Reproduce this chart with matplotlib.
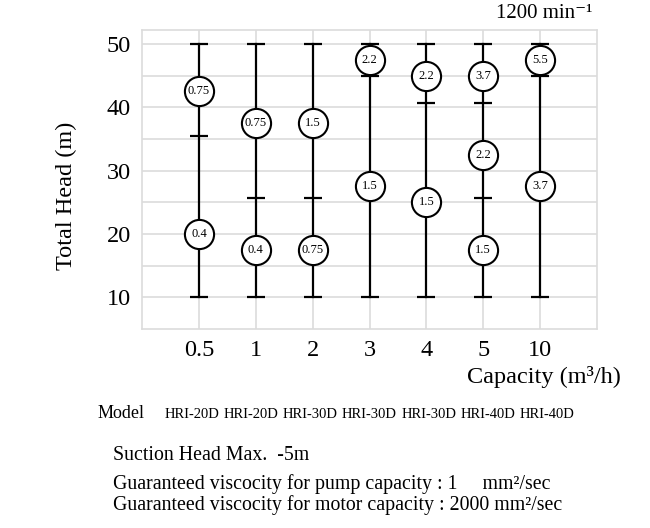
import matplotlib
matplotlib.use('Agg')
import matplotlib.pyplot as plt

plt.rcParams['font.family'] = ['Liberation Serif', 'DejaVu Serif']

# Данные диаграммы
capacities = ['0.5', '1', '2', '3', '4', '5', '10']
models = ['HRI-20D', 'HRI-20D', 'HRI-30D', 'HRI-30D', 'HRI-30D', 'HRI-40D', 'HRI-40D']
head_min = [10, 10, 10, 10, 10, 10, 10]
head_max = [50, 50, 50, 50, 50, 50, 50]
split_heads = [[35.5], [25.7], [25.7], [45], [40.7], [40.7, 25.7], [45]]
kw_heads = [[42.5, 20], [37.5, 17.5], [37.5, 17.5], [47.5, 27.5], [45, 25],
            [45, 32.5, 17.5], [47.5, 27.5]]
kw_labels = [['0.75', '0.4'], ['0.75', '0.4'], ['1.5', '0.75'], ['2.2', '1.5'],
             ['2.2', '1.5'], ['3.7', '2.2', '1.5'], ['5.5', '3.7']]

fig = plt.figure(figsize=(6.5, 5.28), dpi=100)
ax = fig.add_axes([142 / 650, 1 - 329 / 528, 455 / 650, 299 / 528])

for i in range(len(capacities)):
    ax.plot([i, i], [head_min[i], head_max[i]], color='black', lw=1.6, zorder=3)
    caps = [head_min[i], head_max[i]] + split_heads[i]
    ax.plot([i] * len(caps), caps, linestyle='none', marker='_', ms=13,
            mew=1.6, color='black', zorder=3)
    for h, lab in zip(kw_heads[i], kw_labels[i]):
        ax.plot(i, h, marker='o', ms=21, mfc='white', mec='black', mew=1.5,
                zorder=4)
        ax.text(i, h, lab, ha='center', va='center', fontsize=9, zorder=5)

ax.set_xlim(-1, 7)
ax.set_ylim(5, 52.2)
ax.set_xticks(range(len(capacities)))
ax.set_xticklabels(capacities)
ax.set_yticks([10, 20, 30, 40, 50])
ax.set_yticks([15, 25, 35, 45], minor=True)
ax.tick_params(axis='both', which='both', length=0, labelsize=17.5)
ax.tick_params(axis='x', pad=8)
ax.tick_params(axis='y', pad=8)
ax.grid(True, which='both', color='#dcdcdc', lw=1.2, zorder=0)
for s in ax.spines.values():
    s.set_color('#dcdcdc')
    s.set_linewidth(1.2)

fig.text(66 / 650, 1 - 196 / 528, 'Total Head (m)', rotation=90,
         ha='center', va='center', fontsize=17.5)
fig.text(544 / 650, 1 - 377 / 528, 'Capacity (m³/h)', ha='center', va='center',
         fontsize=17.5)
fig.text(544 / 650, 1 - 13 / 528, '1200 min⁻¹', ha='center', va='center',
         fontsize=15)

fig.text(98 / 650, 1 - 414 / 528, 'Model', ha='left', va='center', fontsize=13)
for i, m in enumerate(models):
    fig.text((192 + 59.2 * i) / 650, 1 - 414 / 528, m, ha='center', va='center',
             fontsize=10.5)

fig.text(113 / 650, 1 - 456 / 528, 'Suction Head Max.  -5m', ha='left',
         va='center', fontsize=14.3)
fig.text(113 / 650, 1 - 484 / 528,
         'Guaranteed viscocity for pump capacity : 1     mm²/sec', ha='left',
         va='center', fontsize=14.3)
fig.text(113 / 650, 1 - 505 / 528,
         'Guaranteed viscocity for motor capacity : 2000 mm²/sec', ha='left',
         va='center', fontsize=14.3)

fig.savefig('out.png', dpi=100)
